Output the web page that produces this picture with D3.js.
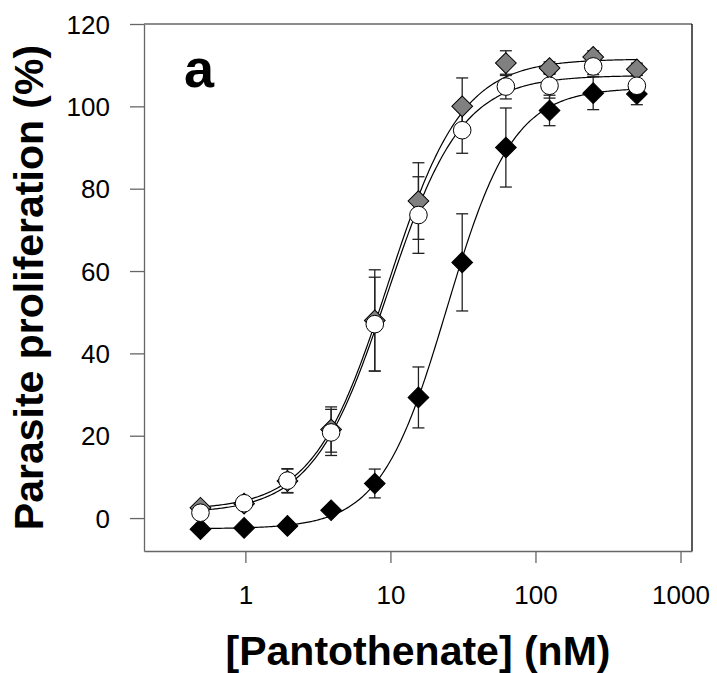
<!DOCTYPE html>
<html lang="en">
<head>
<meta charset="UTF-8">
<title>Parasite proliferation vs pantothenate</title>
<script src="https://d3js.org/d3.v7.min.js"></script>
<style>
    body { margin: 0; background: #fff; }
    svg { display: block; font-family: Arial, "Liberation Sans", sans-serif; }
</style>
</head>
<body>
<svg id="chart" width="717" height="673"></svg>
<script>
// pantothenate concentrations (nM), two-fold dilution series
const concentrations = [0.49, 0.98, 1.95, 3.9, 7.8, 15.6, 31.25, 62.5, 125, 250, 500];

// grey diamonds
const grayMeans  = [2.5, 3.5, 9.0, 21.5, 48.0, 77.0, 100.0, 110.5, 109.3, 112.0, 109.0];
const grayErrors = [1.0, 1.0, 2.9, 5.5, 12.3, 9.3, 6.9, 3.0, 1.5, 1.5, 1.5];
// open circles
const openMeans  = [1.3, 3.6, 9.1, 20.8, 47.1, 73.6, 94.2, 104.8, 105.0, 109.7, 105.0];
const openErrors = [1.0, 1.2, 2.9, 5.6, 11.4, 9.3, 5.6, 3.0, 3.0, 2.0, 3.0];
// black diamonds
const blackMeans  = [-2.7, -2.4, -1.9, 1.9, 8.4, 29.3, 62.1, 90.0, 99.0, 103.2, 103.0];
const blackErrors = [0.5, 0.5, 0.5, 1.0, 3.5, 7.4, 11.8, 9.6, 3.7, 4.0, 2.6];

// fitted sigmoid parameters: [bottom, top, EC50, hill]
const grayFit  = [2.0, 111.5, 9.6, 1.7];
const openFit  = [1.2, 107.5, 9.5, 1.7];
const blackFit = [-2.6, 104.5, 24.5, 1.9];

const xTicks = [1, 10, 100, 1000];
const yTicks = [0, 20, 40, 60, 80, 100, 120];

const margin = {top: 24, right: 25, bottom: 122, left: 144};
const width = 717 - margin.left - margin.right;
const height = 673 - margin.top - margin.bottom;

const svg = d3.select("#chart");
const g = svg.append("g").attr("transform", `translate(${margin.left},${margin.top})`);

const x = d3.scaleLog().domain([0.2, 1200]).range([0, width]);
const y = d3.scaleLinear().domain([-8, 120]).range([height, 0]);

const axisColor = "#666";

// frame: top grey, right black
g.append("line").attr("x1", 0).attr("x2", width).attr("y1", 0).attr("y2", 0)
    .attr("stroke", axisColor).attr("stroke-width", 1.3);
g.append("line").attr("x1", width).attr("x2", width).attr("y1", 0).attr("y2", height)
    .attr("stroke", "#000").attr("stroke-width", 1.3);

const xAxis = g.append("g").attr("transform", `translate(0,${height})`)
    .call(d3.axisBottom(x).tickValues(xTicks).tickFormat(d3.format("d")).tickSize(12).tickSizeOuter(0).tickPadding(23));
const yAxis = g.append("g")
    .call(d3.axisLeft(y).tickValues(yTicks).tickSize(14).tickSizeOuter(0).tickPadding(20));

[xAxis, yAxis].forEach(a => {
    a.select(".domain").attr("stroke", axisColor).attr("stroke-width", 1.3);
    a.selectAll(".tick line").attr("stroke", axisColor).attr("stroke-width", 1.3);
    a.selectAll(".tick text").attr("fill", "#000").style("font-size", "26px")
        .style("font-family", "Arial, 'Liberation Sans', sans-serif");
});
xAxis.selectAll(".tick text").attr("dy", "0.71em");
yAxis.selectAll(".tick text").attr("dy", "0.35em");

// axis titles
svg.append("text")
    .attr("x", margin.left + width / 2).attr("y", 665)
    .attr("text-anchor", "middle")
    .style("font-size", "41px").style("font-weight", "bold")
    .text("[Pantothenate] (nM)");
svg.append("text")
    .attr("transform", `translate(43,${margin.top + height / 2}) rotate(-90)`)
    .attr("text-anchor", "middle")
    .style("font-size", "41px").style("font-weight", "bold")
    .text("Parasite proliferation (%)");

// panel label
g.append("text").attr("x", 40).attr("y", 63)
    .style("font-size", "54px").style("font-weight", "bold")
    .text("a");

// fitted curves
function sigmoid(p, c) {
    const [bottom, top, ec50, hill] = p;
    return bottom + (top - bottom) / (1 + Math.pow(ec50 / c, hill));
}
const curveXs = d3.range(0, 301).map(i => Math.pow(10, Math.log10(0.49) + i / 300 * (Math.log10(500) - Math.log10(0.49))));
const line = d3.line().x(d => x(d[0])).y(d => y(d[1]));
[grayFit, openFit, blackFit].forEach(p => {
    g.append("path")
        .datum(curveXs.map(c => [c, sigmoid(p, c)]))
        .attr("d", line)
        .attr("fill", "none")
        .attr("stroke", "#000")
        .attr("stroke-width", 1.2);
});

// error bars
function errorBars(means, errors) {
    const rows = concentrations.map((c, i) => ({c, m: means[i], e: errors[i]}));
    const eg = g.append("g").attr("stroke", "#222").attr("stroke-width", 1.3);
    rows.forEach(d => {
        const cx = x(d.c);
        eg.append("line").attr("x1", cx).attr("x2", cx).attr("y1", y(d.m - d.e)).attr("y2", y(d.m + d.e));
        [d.m - d.e, d.m + d.e].forEach(v => {
            eg.append("line").attr("x1", cx - 6).attr("x2", cx + 6).attr("y1", y(v)).attr("y2", y(v));
        });
    });
}
errorBars(grayMeans, grayErrors);
errorBars(blackMeans, blackErrors);
errorBars(openMeans, openErrors);

// markers
const diamond = d3.symbol().type(d3.symbolSquare).size(215);
function diamonds(means, fill) {
    g.append("g").selectAll("path")
        .data(concentrations.map((c, i) => ({c, m: means[i]})))
        .join("path")
        .attr("d", diamond)
        .attr("transform", d => `translate(${x(d.c)},${y(d.m)}) rotate(45)`)
        .attr("fill", fill)
        .attr("stroke", "#000")
        .attr("stroke-width", 1);
}
diamonds(grayMeans, "#808080");
diamonds(blackMeans, "#000");

g.append("g").selectAll("circle")
    .data(concentrations.map((c, i) => ({c, m: openMeans[i]})))
    .join("circle")
    .attr("cx", d => x(d.c))
    .attr("cy", d => y(d.m))
    .attr("r", 8.8)
    .attr("fill", "#fff")
    .attr("stroke", "#000")
    .attr("stroke-width", 1);
</script>
</body>
</html>
